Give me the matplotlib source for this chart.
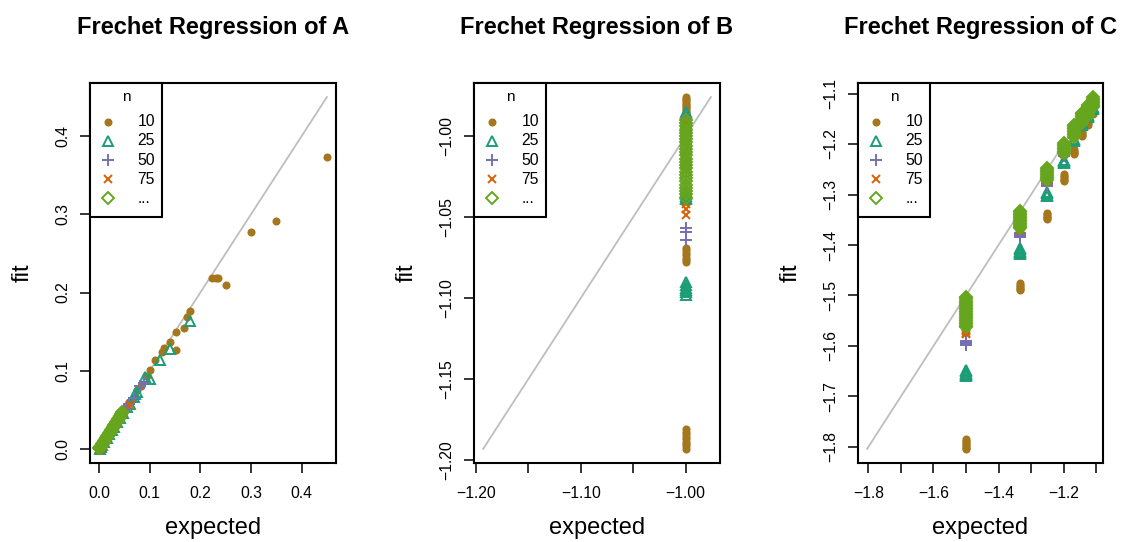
"""Frechet regression fit vs expected, three panels (A, B, C), R-style base graphics look."""
import matplotlib
matplotlib.use("Agg")
import matplotlib.pyplot as plt
from matplotlib.patches import Rectangle
import numpy as np

plt.rcParams.update({
    "font.family": ["Liberation Sans", "DejaVu Sans"],
    "axes.linewidth": 1.5,
})

# ---- legend / groups -------------------------------------------------------
GROUP_LABELS = ["10", "25", "50", "75", "..."]
GROUP_COLORS = ["#A6761D", "#1B9E77", "#7570B3", "#D95F02", "#66A61E"]
GROUP_MARKERS = ["o", "^", "+", "x", "D"]
GROUP_MS = [4.4, 7.0, 8.0, 6.0, 6.2]
GROUP_FILLED = [True, False, False, False, False]

# ---- panel A: expected / fit per n ----------------------------------------
A_10_x = [0.45, 0.35, 0.30, 0.224, 0.230, 0.235, 0.25, 0.180, 0.174, 0.167, 0.151,
          0.151, 0.141, 0.128, 0.124, 0.111, 0.100, 0.095, 0.082, 0.075, 0.068, 0.060,
          0.052, 0.045, 0.038, 0.032, 0.026, 0.020, 0.015, 0.010, 0.006, 0.003, 0.0]
A_10_y = [0.373, 0.292, 0.277, 0.218, 0.218, 0.218, 0.210, 0.176, 0.169, 0.155, 0.149,
          0.127, 0.137, 0.129, 0.124, 0.114, 0.101, 0.093, 0.080, 0.076, 0.067, 0.060,
          0.051, 0.046, 0.037, 0.032, 0.025, 0.020, 0.014, 0.010, 0.005, 0.003, 0.0]
A_25_x = [0.180, 0.140, 0.120, 0.100, 0.0915, 0.075, 0.071, 0.068, 0.062, 0.055, 0.048,
          0.042, 0.036, 0.030, 0.025, 0.020, 0.015, 0.010, 0.006, 0.003, 0.001]
A_25_y = [0.163, 0.128, 0.114, 0.090, 0.0925, 0.073, 0.070, 0.066, 0.058, 0.054, 0.046,
          0.040, 0.034, 0.028, 0.024, 0.019, 0.014, 0.009, 0.005, 0.002, 0.000]
A_50_x = [0.088, 0.081, 0.068, 0.0585, 0.053, 0.050, 0.044, 0.038, 0.032, 0.027,
          0.022, 0.017, 0.013, 0.009, 0.005, 0.002, 0.0]
A_50_y = [0.084, 0.080, 0.065, 0.058, 0.051, 0.048, 0.042, 0.036, 0.031, 0.025,
          0.021, 0.016, 0.012, 0.008, 0.004, 0.001, 0.0]
A_75_x = [0.062, 0.045, 0.039, 0.036, 0.034, 0.032, 0.030, 0.028, 0.026, 0.024,
          0.022, 0.020, 0.018, 0.016, 0.014, 0.012, 0.010, 0.008, 0.006, 0.004,
          0.003, 0.002, 0.001, 0.0]
A_75_y = [0.056, 0.043, 0.041, 0.034, 0.032, 0.030, 0.028, 0.026, 0.024, 0.022,
          0.020, 0.018, 0.016, 0.014, 0.012, 0.010, 0.008, 0.006, 0.004, 0.002,
          0.001, 0.001, 0.0, 0.0]
A_more_x = [0.046, 0.045, 0.044, 0.043, 0.042, 0.041, 0.040, 0.039, 0.038, 0.037,
            0.036, 0.035, 0.034, 0.033, 0.032, 0.031, 0.030, 0.029, 0.028, 0.027,
            0.026, 0.025, 0.024, 0.023, 0.022, 0.021, 0.020, 0.019, 0.018, 0.017,
            0.016, 0.015, 0.014, 0.013, 0.012, 0.011, 0.010, 0.009, 0.008, 0.007,
            0.006, 0.005, 0.004, 0.003, 0.002, 0.001, 0.0]
A_more_y = [0.047, 0.046, 0.045, 0.044, 0.042, 0.041, 0.040, 0.039, 0.038, 0.037,
            0.036, 0.035, 0.034, 0.033, 0.032, 0.031, 0.030, 0.029, 0.028, 0.027,
            0.026, 0.025, 0.024, 0.023, 0.022, 0.021, 0.020, 0.019, 0.018, 0.017,
            0.016, 0.015, 0.014, 0.013, 0.012, 0.011, 0.010, 0.009, 0.008, 0.007,
            0.006, 0.005, 0.004, 0.003, 0.002, 0.001, 0.001]

# ---- panel B: every expected value is -1.00, fits per n --------------------
B_EXPECTED = -1.0
B_10 = [-0.976, -0.977, -0.978, -0.979, -0.980, -0.981, -0.982, -0.983, -0.984,
        -0.985, -0.986, -0.995, -1.005, -1.015,
        -1.069, -1.0705, -1.072, -1.0735, -1.075, -1.0765, -1.078,
        -1.181, -1.1825, -1.184, -1.1855, -1.187, -1.1885, -1.190, -1.1915, -1.193]
B_25 = [-0.985, -0.986, -0.987, -0.988, -0.989, -0.990, -0.992, -0.994, -0.996,
        -0.998, -1.000, -1.016, -1.034, -1.035, -1.036, -1.037, -1.038, -1.039,
        -1.090, -1.092, -1.094, -1.095, -1.096, -1.098]
B_50 = [-0.988, -0.990, -0.993, -0.996, -0.999, -1.002, -1.005, -1.008, -1.011,
        -1.014, -1.017, -1.020, -1.023, -1.057, -1.059, -1.064]
B_75 = [-0.992, -0.995, -0.998, -1.001, -1.004, -1.007, -1.010, -1.013, -1.016,
        -1.019, -1.042, -1.045, -1.049]
B_more = [-0.990, -0.992, -0.994, -0.996, -0.998, -1.000, -1.002, -1.004, -1.006,
          -1.008, -1.010, -1.012, -1.014, -1.016, -1.018, -1.020, -1.022, -1.024,
          -1.026, -1.028, -1.030, -1.032, -1.034, -1.036, -1.038]

# ---- panel C: expected levels and fits per n at each level ----------------
C_EXPECTED = [-1.5, -1.3333, -1.25, -1.2, -1.1667, -1.1429, -1.125, -1.1111]
C_10 = [[-1.785, -1.788, -1.791, -1.794, -1.797, -1.800, -1.802, -1.804],
        [-1.476, -1.479, -1.482, -1.485, -1.487, -1.489],
        [-1.336, -1.339, -1.342, -1.345, -1.347, -1.349],
        [-1.260, -1.263, -1.266, -1.269, -1.271, -1.273],
        [-1.210, -1.213, -1.216, -1.218, -1.220],
        [-1.176, -1.179, -1.182, -1.185],
        [-1.153, -1.156, -1.159, -1.162],
        [-1.136, -1.139, -1.141]]
C_25 = [[-1.647, -1.650, -1.653, -1.656, -1.658, -1.660],
        [-1.405, -1.408, -1.411, -1.414, -1.416, -1.418],
        [-1.296, -1.298, -1.300, -1.303],
        [-1.231, -1.233, -1.235, -1.238],
        [-1.190, -1.192, -1.194],
        [-1.158, -1.160, -1.162],
        [-1.143, -1.145, -1.147],
        [-1.127, -1.129, -1.131]]
C_50 = [[-1.590, -1.592, -1.594, -1.596, -1.598], [-1.376, -1.378, -1.381, -1.383, -1.385],
        [-1.276, -1.278, -1.280, -1.283], [-1.218, -1.221, -1.224],
        [-1.183, -1.186, -1.189], [-1.155, -1.158], [-1.138, -1.141], [-1.122, -1.125]]
C_75 = [[-1.566, -1.569, -1.571, -1.574, -1.576], [-1.362, -1.364, -1.366, -1.368, -1.370],
        [-1.266, -1.268, -1.270, -1.272, -1.274], [-1.214, -1.217, -1.220],
        [-1.180, -1.183, -1.186], [-1.153, -1.156], [-1.135, -1.138], [-1.113, -1.120]]
C_more = [[-1.503, -1.506, -1.509, -1.512, -1.515, -1.518, -1.521, -1.524, -1.527,
           -1.530, -1.533, -1.536, -1.539, -1.542, -1.545, -1.548, -1.551, -1.554,
           -1.557, -1.560, -1.562],
          [-1.332, -1.335, -1.338, -1.341, -1.344, -1.347, -1.350, -1.353, -1.356,
           -1.359, -1.362, -1.364, -1.366],
          [-1.247, -1.250, -1.253, -1.256, -1.259, -1.262, -1.265, -1.268, -1.271],
          [-1.198, -1.201, -1.204, -1.207, -1.210, -1.213, -1.216, -1.218],
          [-1.162, -1.165, -1.168, -1.171, -1.174, -1.177, -1.180, -1.183, -1.186],
          [-1.138, -1.141, -1.144, -1.147, -1.150, -1.153, -1.156, -1.158],
          [-1.122, -1.125, -1.128, -1.131, -1.134, -1.137, -1.140, -1.143, -1.145],
          [-1.107, -1.110, -1.113, -1.116, -1.119, -1.122, -1.124, -1.126]]

A_YTICKS = [0.0, 0.1, 0.2, 0.3, 0.4]
A_XTICKS = [0.0, 0.1, 0.2, 0.3, 0.4]
B_YTICKS = [-1.20, -1.15, -1.10, -1.05, -1.00]
B_XTICKS = [-1.20, -1.15, -1.10, -1.05, -1.00]
B_XLABELS = ["\u22121.20", "", "\u22121.10", "", "\u22121.00"]
C_YTICKS = [-1.8, -1.7, -1.6, -1.5, -1.4, -1.3, -1.2, -1.1]
C_XTICKS = [-1.8, -1.7, -1.6, -1.5, -1.4, -1.3, -1.2, -1.1]
C_XLABELS = ["\u22121.8", "", "\u22121.6", "", "\u22121.4", "", "\u22121.2", ""]

W, H = 1124, 542
AX_H = 380          # axes height in pixels
LEG_W, LEG_H = 72, 134
LEG_ROW0, LEG_PITCH = 38.7, 19.2


def expand_levels(levels, fits):
    xs, ys = [], []
    for lvl, vals in zip(levels, fits):
        xs.extend([lvl] * len(vals))
        ys.extend(vals)
    return xs, ys


def fmt(v, nd):
    return f"{v:.{nd}f}".replace("-", "\u2212")


def marker_kw(col, mk, ms, filled):
    return dict(linestyle="None", marker=mk, ms=ms, color=col,
                mfc=col if filled else "none", mec=col, mew=1.4)


def r_legend(ax, ax_w):
    # R-style legend box pinned to the top-left corner of the plot region.
    fx, fy = 1 / ax_w, 1 / AX_H
    ax.add_patch(Rectangle((0, 1 - LEG_H * fy), LEG_W * fx, LEG_H * fy,
                           transform=ax.transAxes, facecolor="white",
                           edgecolor="black", lw=1.5, zorder=5, clip_on=False))
    ax.text(36 * fx, 1 - 14 * fy, "n", transform=ax.transAxes, fontsize=11,
            ha="center", va="center", zorder=6)
    for i, (lab, col, mk, ms, filled) in enumerate(zip(
            GROUP_LABELS, GROUP_COLORS, GROUP_MARKERS, GROUP_MS, GROUP_FILLED)):
        y = 1 - (LEG_ROW0 + i * LEG_PITCH) * fy
        ax.plot([18.3 * fx], [y], transform=ax.transAxes, clip_on=False,
                zorder=6, **marker_kw(col, mk, ms, filled))
        ax.text(47.3 * fx, y, lab, transform=ax.transAxes, fontsize=11.3,
                ha="left", va="center", zorder=6)


def draw_panel(ax, ax_w, groups, title, yticks, xticks, xlabels, ndec):
    allv = np.concatenate([np.asarray(g, dtype=float) for pair in groups for g in pair])
    lo, hi = allv.min(), allv.max()
    pad = 0.04 * (hi - lo)
    ax.plot([lo, hi], [lo, hi], color="#BEBEBE", lw=1.3, zorder=1)
    for (gx, gy), col, mk, ms, filled in zip(groups, GROUP_COLORS, GROUP_MARKERS,
                                             GROUP_MS, GROUP_FILLED):
        ax.plot(gx, gy, zorder=2, **marker_kw(col, mk, ms, filled))
    ax.set_xlim(lo - pad, hi + pad)
    ax.set_ylim(lo - pad, hi + pad)
    ax.set_yticks(yticks)
    ax.set_yticklabels([fmt(v, ndec) for v in yticks], rotation=90, va="center")
    ax.set_xticks(xticks)
    ax.set_xticklabels(xlabels)
    ax.tick_params(direction="out", length=7.2, width=1.1, labelsize=11.3)
    ax.tick_params(axis="x", pad=9.5)
    ax.tick_params(axis="y", pad=7.2)
    ax.set_title(title, fontsize=17, fontweight="bold", pad=35)
    ax.set_xlabel("expected", fontsize=17, va="center")
    ax.xaxis.set_label_coords(0.5, -65 / AX_H)
    ax.set_ylabel("fit", fontsize=17, va="center")
    ax.yaxis.set_label_coords(-67 / ax_w, 0.5)
    r_legend(ax, ax_w)


fig = plt.figure(figsize=(11.24, 5.42), dpi=100)
lefts = [90, 474, 858]
widths = [246, 246, 245]
axes = [fig.add_axes([l / W, (H - 463) / H, w / W, AX_H / H])
        for l, w in zip(lefts, widths)]

groups_a = [(A_10_x, A_10_y), (A_25_x, A_25_y), (A_50_x, A_50_y),
            (A_75_x, A_75_y), (A_more_x, A_more_y)]
groups_b = [([B_EXPECTED] * len(f), f) for f in (B_10, B_25, B_50, B_75, B_more)]
groups_c = [expand_levels(C_EXPECTED, f) for f in (C_10, C_25, C_50, C_75, C_more)]

draw_panel(axes[0], widths[0], groups_a, "Frechet Regression of A", A_YTICKS, A_XTICKS,
           [fmt(v, 1) for v in A_XTICKS], 1)
draw_panel(axes[1], widths[1], groups_b, "Frechet Regression of B", B_YTICKS, B_XTICKS,
           B_XLABELS, 2)
draw_panel(axes[2], widths[2], groups_c, "Frechet Regression of C", C_YTICKS, C_XTICKS,
           C_XLABELS, 1)

fig.savefig("out.png", dpi=100)
